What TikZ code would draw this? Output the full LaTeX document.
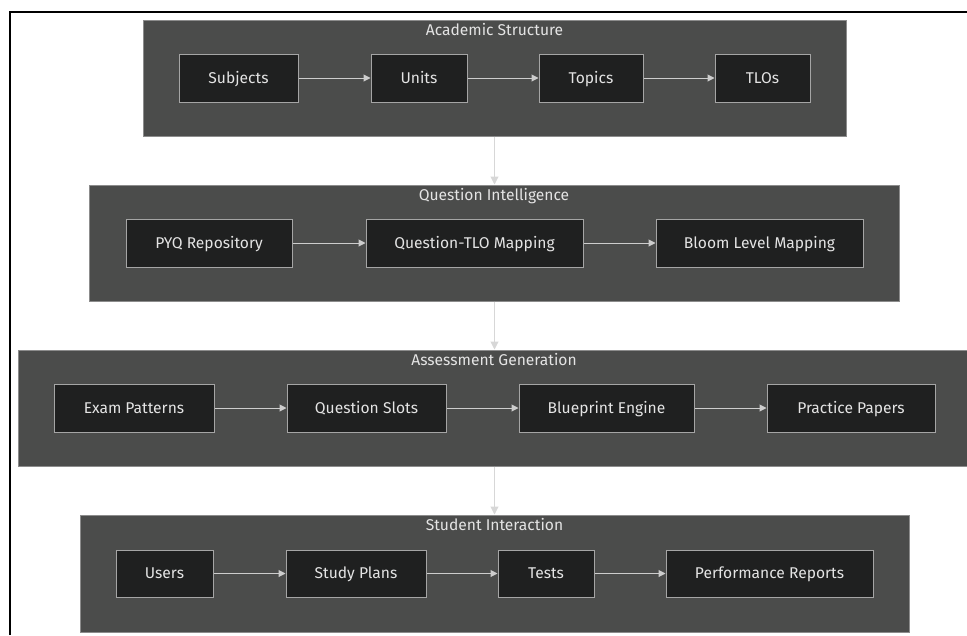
\documentclass[tikz,border=0pt]{standalone}
\usepackage{fontspec}
\setmainfont{Fira Sans}
\usetikzlibrary{arrows.meta}

\definecolor{grpfill}{RGB}{75,76,75}
\definecolor{grpline}{RGB}{140,140,140}
\definecolor{boxfill}{RGB}{31,32,32}
\definecolor{boxline}{RGB}{165,165,165}
\definecolor{txtcol}{RGB}{228,228,228}
\definecolor{linkcol}{RGB}{205,205,205}
\definecolor{flowcol}{RGB}{215,215,215}

\tikzset{every picture/.style={line width=1pt}}
\tikzset{
  grp/.style={draw=grpline, fill=grpfill, inner sep=0pt, minimum height=116},
  grptitle/.style={text=txtcol, inner sep=0pt, text height=12, text depth=3, font=\fontsize{15.6}{18}\selectfont},
  blk/.style={draw=boxline, fill=boxfill, text=txtcol, inner sep=0pt, minimum height=48, text height=12, text depth=2, font=\fontsize{15.6}{18}\selectfont},
  link/.style={draw=linkcol, -{Triangle[length=7pt,width=7pt]}},
  flow/.style={draw=flowcol, -{Triangle[length=8pt,width=8pt]}}
}

\begin{document}
\begin{tikzpicture}[x=1pt,y=1pt,yscale=-1]
			\useasboundingbox (0,0) rectangle (967,635);
			\draw [black, line width=2pt] (9.5,635) -- (9.5,11.5) -- (967,11.5);
			% groups
			\node [grp, minimum width=703] (acad) at (494.5,78) {};
			\node [grp, minimum width=810] (qint) at (494,243) {};
			\node [grp, minimum width=949] (agen) at (492.5,408) {};
			\node [grp, minimum width=829, minimum height=117] (stud) at (494.5,573.5) {};
			\node [grptitle] (acadT) at (494.5,30.5) {Academic Structure};
			\node [grptitle] (qintT) at (494,196) {Question Intelligence};
			\node [grptitle] (agenT) at (494,361) {Assessment Generation};
			\node [grptitle] (studT) at (494.5,526) {Student Interaction};
			% academic structure
			\node [blk, minimum width=119] (subj) at (238.5,78) {Subjects};
			\node [blk, minimum width=96] (unit) at (419,78) {Units};
			\node [blk, minimum width=104] (topc) at (591,78) {Topics};
			\node [blk, minimum width=95] (tlos) at (762.5,78) {TLOs};
			% question intelligence
			\node [blk, minimum width=166] (pyq) at (209,243) {PYQ Repository};
			\node [blk, minimum width=217] (qtlo) at (474.5,243) {Question-TLO Mapping};
			\node [blk, minimum width=207] (blom) at (759.5,243) {Bloom Level Mapping};
			% assessment generation
			\node [blk, minimum width=160] (expt) at (134,408) {Exam Patterns};
			\node [blk, minimum width=159] (slot) at (366.5,408) {Question Slots};
			\node [blk, minimum width=175] (blue) at (606.5,408) {Blueprint Engine};
			\node [blk, minimum width=168] (prac) at (851,408) {Practice Papers};
			% student interaction
			\node [blk, minimum width=97, minimum height=47] (user) at (164.5,573.5) {Users};
			\node [blk, minimum width=140, minimum height=47] (plan) at (356,573.5) {Study Plans};
			\node [blk, minimum width=96, minimum height=47] (test) at (546,573.5) {Tests};
			\node [blk, minimum width=207, minimum height=47] (perf) at (769.5,573.5) {Performance Reports};
			% links
			\draw [link] (subj) -- (unit);
			\draw [link] (unit) -- (topc);
			\draw [link] (topc) -- (tlos);
			\draw [link] (pyq) -- (qtlo);
			\draw [link] (qtlo) -- (blom);
			\draw [link] (expt) -- (slot);
			\draw [link] (slot) -- (blue);
			\draw [link] (blue) -- (prac);
			\draw [link] (user) -- (plan);
			\draw [link] (plan) -- (test);
			\draw [link] (test) -- (perf);
			% flow between groups
			\draw [flow] (acad.south -| acadT) -- (qint.north -| acadT);
			\draw [flow] (qint.south -| acadT) -- (agen.north -| acadT);
			\draw [flow] (agen.south -| acadT) -- (stud.north -| acadT);
		\end{tikzpicture}
\end{document}
